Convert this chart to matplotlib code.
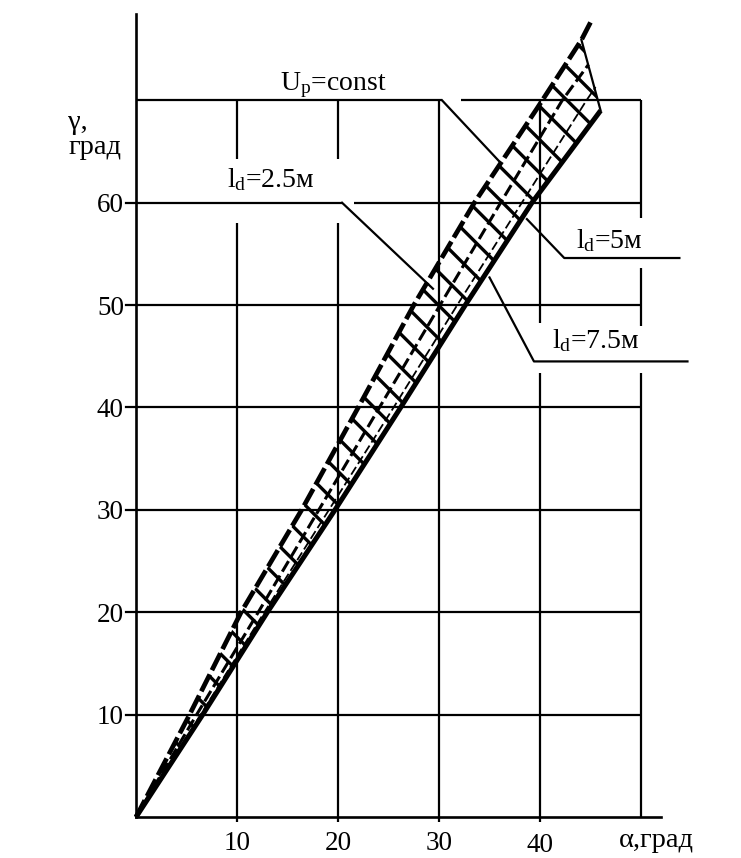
import matplotlib
matplotlib.use('Agg')
import matplotlib.pyplot as plt

plt.rcParams['font.family'] = ['Liberation Serif', 'DejaVu Serif']
plt.rcParams['mathtext.fontset'] = 'custom'
plt.rcParams['mathtext.rm'] = 'Liberation Serif'
plt.rcParams['mathtext.it'] = 'Liberation Serif:italic'
plt.rcParams['hatch.linewidth'] = 2.4

# ---------------- data ----------------
x_tick_values = [10, 20, 30, 40]
y_tick_values = [10, 20, 30, 40, 50, 60]
x_grid_values = [10, 20, 30, 40, 50]
y_grid_values = [10, 20, 30, 40, 50, 60, 70]
x_axis_label = 'α,град'
y_axis_label = ['γ,', 'град']

# upper boundary (U_p = const)
up_alpha = [0, 5.3, 10.4, 16.4, 22.0, 27.5, 33.5, 39.7, 44.1, 45.2]
up_gamma = [0, 10, 20, 30, 40, 50, 60, 69.2, 75.9, 78.0]
# intermediate dashed curve
mid_alpha = [0, 6.0, 12.1, 18.1, 24.1, 30.1, 36.1, 42.2, 44.8]
mid_gamma = [0, 10, 20, 30, 40, 50, 60, 70, 73.5]
# thin dashed curve
thin_alpha = [0, 6.4, 12.7, 19.1, 25.5, 31.8, 38.2, 44.6, 45.5]
thin_gamma = [0, 10, 20, 30, 40, 50, 60, 70, 71.3]
# lower boundary
low_alpha = [0, 6.6, 13.0, 19.7, 26.2, 32.6, 39.2, 46.0]
low_gamma = [0, 10, 20, 30, 40, 50, 60, 69.0]

labels = ['U$_\\mathregular{p}$=const', 'l$_\\mathregular{d}$=2.5м',
          'l$_\\mathregular{d}$=5м', 'l$_\\mathregular{d}$=7.5м']

# ---------------- figure ----------------
fig = plt.figure(figsize=(7.41, 8.58), dpi=100)
ax = fig.add_axes([0, 0, 1, 1])
ax.set_xlim(-13.47, 59.9)
ax.set_ylim(-4.0, 79.8)
ax.axis('off')

K = 'black'
GLW = 1.6

# grid: vertical lines with gaps where labels sit
v_gaps = {10: [(58.0, 64.3)], 20: [(58.0, 64.3)], 40: [(43.4, 48.3)],
          50: [(53.6, 58.5), (43.4, 48.0)]}
for xv in x_grid_values:
    bottom = -0.5 if xv < 50 else 0
    pieces = []
    start = bottom
    for g0, g1 in sorted(v_gaps.get(xv, [])):
        pieces.append((start, g0))
        start = g1
    pieces.append((start, 70))
    for a, b in pieces:
        ax.plot([xv, xv], [a, b], color=K, lw=GLW, solid_capstyle='butt')

h_gaps = {60: [(20.4, 21.6)], 70: [(30.3, 32.2)]}
for yv in y_grid_values:
    pieces = []
    start = 0
    for g0, g1 in sorted(h_gaps.get(yv, [])):
        pieces.append((start, g0))
        start = g1
    pieces.append((start, 50))
    for a, b in pieces:
        ax.plot([a, b], [yv, yv], color=K, lw=GLW, solid_capstyle='butt')

# axes lines
ax.plot([0, 52], [0, 0], color=K, lw=1.9)
ax.plot([0, 0], [0, 78.4], color=K, lw=1.9)
for yv in y_tick_values:
    ax.plot([-1.0, 0], [yv, yv], color=K, lw=1.6)

# hatched band
band_x = up_alpha[:-1] + low_alpha[::-1]
band_y = up_gamma[:-1] + low_gamma[::-1]
ax.fill(band_x, band_y, facecolor='none', edgecolor=K, hatch='\\', linewidth=0)

# curves
ax.plot(up_alpha, up_gamma, color=K, lw=3.4, dashes=(4.0, 1.0))
ax.plot(mid_alpha, mid_gamma, color=K, lw=2.2, dashes=(4, 1.5))
ax.plot(thin_alpha, thin_gamma, color=K, lw=1.3, dashes=(5, 2))
ax.plot(low_alpha, low_gamma, color=K, lw=3.6, solid_capstyle='butt')
ax.plot([up_alpha[-2], low_alpha[-1]], [up_gamma[-2], low_gamma[-1]], color=K, lw=1.6)

# leader lines
ax.plot([30.3, 36.0], [70, 64.0], color=K, lw=GLW)
ax.plot([20.4, 29.4], [60, 51.6], color=K, lw=GLW)
ax.plot([53.8, 42.4, 38.7], [54.6, 54.6, 58.4], color=K, lw=GLW)
ax.plot([54.6, 39.4, 35.0], [44.5, 44.5, 52.7], color=K, lw=GLW)

# label texts
FS = 20
ax.text(19.5, 71.0, labels[0], fontsize=FS, ha='center', va='baseline')
ax.text(13.3, 61.5, labels[1], fontsize=FS, ha='center', va='baseline')
ax.text(46.9, 55.6, labels[2], fontsize=FS, ha='center', va='baseline')
ax.text(45.5, 45.8, labels[3], fontsize=FS, ha='center', va='baseline')

# tick labels
TFS = 19.5
for yv in y_tick_values:
    ax.text(-1.2, yv, str(yv), fontsize=TFS, ha='right', va='center_baseline')
for xv in x_tick_values:
    dy = -0.2 if xv == 40 else 0
    ax.text(xv, -2.3 + dy, str(xv), fontsize=TFS, ha='center', va='center_baseline')
ax.text(47.8, -1.95, x_axis_label, fontsize=20.5, ha='left', va='center_baseline')
ax.text(-6.7, 68.1, y_axis_label[0], fontsize=20.5, ha='left', va='center_baseline')
ax.text(-6.7, 65.7, y_axis_label[1], fontsize=20.5, ha='left', va='center_baseline')

fig.savefig('out.png', dpi=100, facecolor='white')
